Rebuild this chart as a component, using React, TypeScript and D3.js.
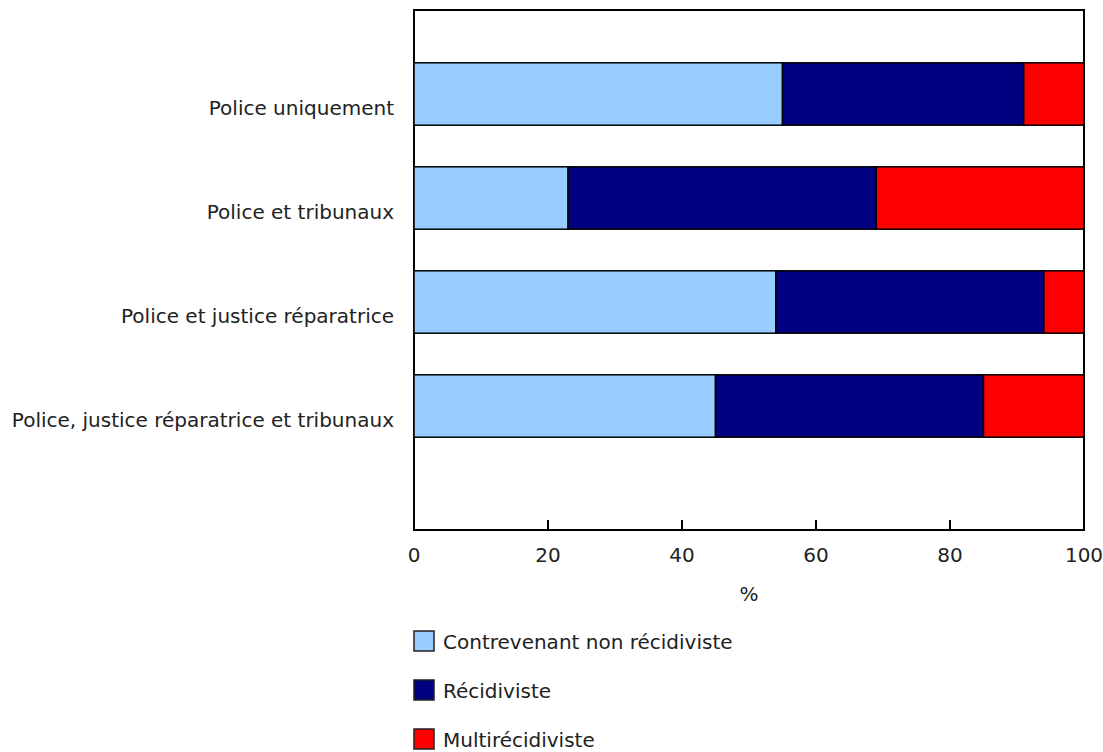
import React, { useEffect, useRef } from 'react'
import * as d3 from 'd3'

const categories = [
  'Police uniquement',
  'Police et tribunaux',
  'Police et justice réparatrice',
  'Police, justice réparatrice et tribunaux',
]
const seriesNames = ['Contrevenant non récidiviste', 'Récidiviste', 'Multirécidiviste']
const nonRecidiviste = [55, 23, 54, 45]
const recidiviste = [36, 46, 40, 40]
const multirecidiviste = [9, 31, 6, 15]
const xTicks = [0, 20, 40, 60, 80, 100]
const colors = ['#99CCFF', '#000080', '#FF0000']

const FONT = '"DejaVu Sans", Verdana, sans-serif'
const FS = '20px'

export default function App() {
  const ref = useRef<SVGSVGElement | null>(null)

  useEffect(() => {
    const svg = d3.select(ref.current)
    svg.selectAll('*').remove()

    const left = 414
    const right = 1084
    const top = 10
    const bottom = 530

    const x = d3.scaleLinear().domain([0, 100]).range([left, right])
    // 4 bars plus an empty slot at the bottom, like the original
    const y = d3.scaleBand<string>()
      .domain(categories)
      .range([42, 458])
      .paddingInner(0.4)
      .paddingOuter(0.2)

    const rows = categories.map((c, i) => ({
      name: c,
      s0: nonRecidiviste[i],
      s1: recidiviste[i],
      s2: multirecidiviste[i],
    }))
    const stacked = d3.stack<any>().keys(['s0', 's1', 's2'])(rows)

    const g = svg.append('g')

    // frame
    g.append('rect')
      .attr('x', left)
      .attr('y', top)
      .attr('width', right - left)
      .attr('height', bottom - top)
      .attr('fill', 'none')
      .attr('stroke', '#000')
      .attr('stroke-width', 2)

    stacked.forEach((layer, k) => {
      g.append('g').selectAll('rect').data(layer).enter().append('rect')
        .attr('x', d => x(d[0]))
        .attr('y', d => y(d.data.name) as number)
        .attr('width', d => x(d[1]) - x(d[0]))
        .attr('height', y.bandwidth())
        .attr('fill', colors[k])
        .attr('stroke', '#000')
        .attr('stroke-width', 1.5)
    })

    // x axis, ticks pointing in
    const axis = g.append('g').attr('transform', `translate(0,${bottom})`)
    axis.selectAll('line').data(xTicks).enter().append('line')
      .attr('x1', d => x(d)).attr('x2', d => x(d))
      .attr('y1', 0).attr('y2', -10)
      .attr('stroke', '#000').attr('stroke-width', 2)
    axis.selectAll('text').data(xTicks).enter().append('text')
      .attr('x', d => x(d))
      .attr('y', 32)
      .attr('text-anchor', 'middle')
      .style('font-family', FONT)
      .style('font-size', FS)
      .attr('fill', '#222')
      .text(d => d)

    g.append('text')
      .attr('x', (left + right) / 2)
      .attr('y', 601)
      .attr('text-anchor', 'middle')
      .style('font-family', FONT)
      .style('font-size', FS)
      .attr('fill', '#222')
      .text('%')

    // category labels (sit a bit below the bar centre in the original)
    g.append('g').selectAll('text').data(categories).enter().append('text')
      .attr('x', 394)
      .attr('y', d => (y(d) as number) + y.bandwidth() / 2 + 21)
      .attr('text-anchor', 'end')
      .style('font-family', FONT)
      .style('font-size', FS)
      .attr('fill', '#222')
      .text(d => d)

    // legend
    const legend = g.append('g')
    seriesNames.forEach((name, i) => {
      const cy = 641 + i * 49
      legend.append('rect')
        .attr('x', 414)
        .attr('y', cy - 10)
        .attr('width', 20)
        .attr('height', 20)
        .attr('fill', colors[i])
        .attr('stroke', '#222')
        .attr('stroke-width', 1.5)
      legend.append('text')
        .attr('x', 443)
        .attr('y', cy + 8)
        .style('font-family', FONT)
        .style('font-size', FS)
        .attr('fill', '#222')
        .text(name)
    })
  }, [])

  return (
    <svg ref={ref} width={1103} height={752}
      style={{ position: 'absolute', left: 0, top: 0, background: '#fff' }} />
  )
}
